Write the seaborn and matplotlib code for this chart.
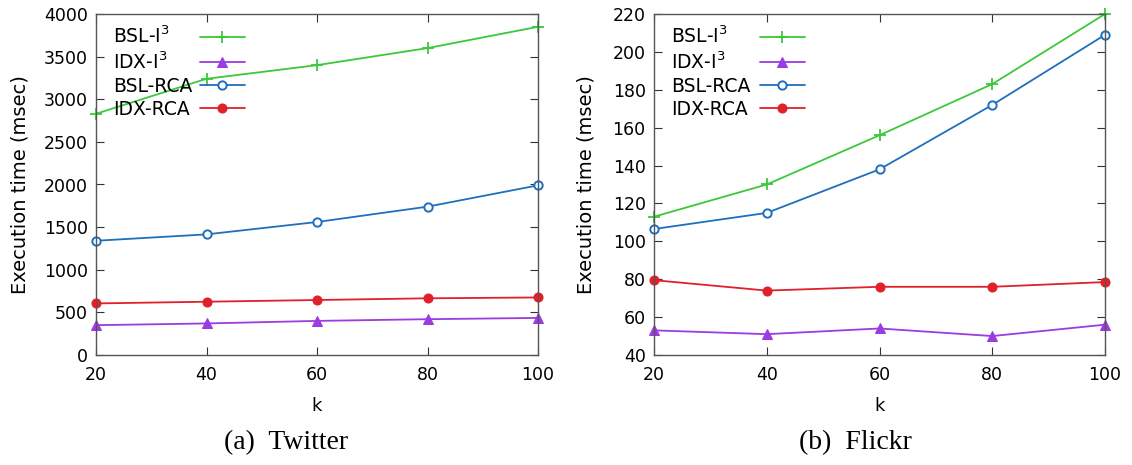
import matplotlib
matplotlib.use("Agg")
import matplotlib.pyplot as plt
from matplotlib.lines import Line2D
import seaborn as sns
import pandas as pd

# Valeurs de k
k_values = [20, 40, 60, 80, 100]

# Twitter (msec)
tw_bsl_i3 = [2830, 3240, 3400, 3600, 3850]
tw_idx_i3 = [350, 370, 400, 420, 435]
tw_bsl_rca = [1340, 1415, 1560, 1740, 1990]
tw_idx_rca = [605, 625, 645, 665, 675]

# Flickr (msec)
fl_bsl_i3 = [113, 130, 156, 183, 220]
fl_idx_i3 = [53, 51, 54, 50, 56]
fl_bsl_rca = [106.5, 115, 138, 172, 209]
fl_idx_rca = [79.5, 74, 76, 76, 78.5]

labels = ["BSL-I$^3$", "IDX-I$^3$", "BSL-RCA", "IDX-RCA"]
captions = ["(a)  Twitter", "(b)  Flickr"]

colors = ["#3cc83c", "#9a3ce0", "#1f6fbd", "#e0202a"]
styles = [
    dict(marker="+", markersize=8, markeredgewidth=1.3),
    dict(marker="^", markersize=6.5),
    dict(marker="o", markersize=6, markerfacecolor="white", markeredgewidth=1.4),
    dict(marker="o", markersize=6.5),
]

sns.set_style("ticks")
plt.rcParams["font.family"] = ["DejaVu Sans"]
plt.rcParams["mathtext.fontset"] = "dejavusans"
plt.rcParams["text.color"] = "black"
plt.rcParams["axes.labelcolor"] = "black"
plt.rcParams["xtick.labelcolor"] = "black"
plt.rcParams["ytick.labelcolor"] = "black"

fig = plt.figure(figsize=(11.32, 4.65), dpi=100)
ax1 = fig.add_axes([96 / 1132, 1 - 355 / 465, (538 - 96) / 1132, (355 - 14) / 465])
ax2 = fig.add_axes([654 / 1132, 1 - 355 / 465, (1105 - 654) / 1132, (355 - 14) / 465])

LEG_FS = 13.5


def tracer(ax, series, ylim, yticks, ylabelpad):
    lignes = []
    for vals, lab, col, st in zip(series, labels, colors, styles):
        df = pd.DataFrame({"k": k_values, "t": vals})
        sns.lineplot(data=df, x="k", y="t", ax=ax, color=col,
                     linewidth=1.3, markeredgecolor=col, clip_on=False, **st)
        lignes.append(ax.lines[-1])
    ax.set_xlim(20, 100)
    ax.set_ylim(*ylim)
    ax.set_xticks(k_values)
    ax.set_yticks(yticks)
    ax.set_xlabel("k", fontsize=13, labelpad=9)
    ax.set_ylabel("Execution time (msec)", fontsize=14, labelpad=ylabelpad)
    ax.tick_params(axis="both", labelsize=12.5, direction="in", length=6,
                   top=True, right=True, color="#333333")
    ax.tick_params(axis="x", pad=8)
    ax.tick_params(axis="y", pad=6)
    for s in ax.spines.values():
        s.set_color("#555555")
        s.set_linewidth(1.0)

    # légende façon gnuplot : textes à gauche, symboles à droite
    invisibles = [Line2D([], [], linestyle="none") for _ in labels]
    leg_txt = ax.legend(invisibles, labels, loc="upper left", frameon=False,
                        fontsize=LEG_FS, handlelength=0, handletextpad=0,
                        labelspacing=0.22, borderpad=0, borderaxespad=0,
                        bbox_to_anchor=(0.038, 0.966))
    ax.add_artist(leg_txt)
    leg_sym = ax.legend(lignes, labels, loc="upper left", frameon=False,
                        fontsize=LEG_FS, handlelength=2.4, handletextpad=0,
                        labelspacing=0.22, borderpad=0, borderaxespad=0,
                        bbox_to_anchor=(0.235, 0.966))
    for t in leg_sym.get_texts():
        t.set_alpha(0)


tracer(ax1, [tw_bsl_i3, tw_idx_i3, tw_bsl_rca, tw_idx_rca], (0, 4000),
       range(0, 4001, 500), 10)
tracer(ax2, [fl_bsl_i3, fl_idx_i3, fl_bsl_rca, fl_idx_rca], (40, 220),
       range(40, 221, 20), 12)

fig.text(286 / 1132, 1 - 443 / 465, captions[0], ha="center", va="center",
         fontsize=20, family="Liberation Serif")
fig.text(855 / 1132, 1 - 443 / 465, captions[1], ha="center", va="center",
         fontsize=20, family="Liberation Serif")

fig.savefig("out.png", dpi=100)
